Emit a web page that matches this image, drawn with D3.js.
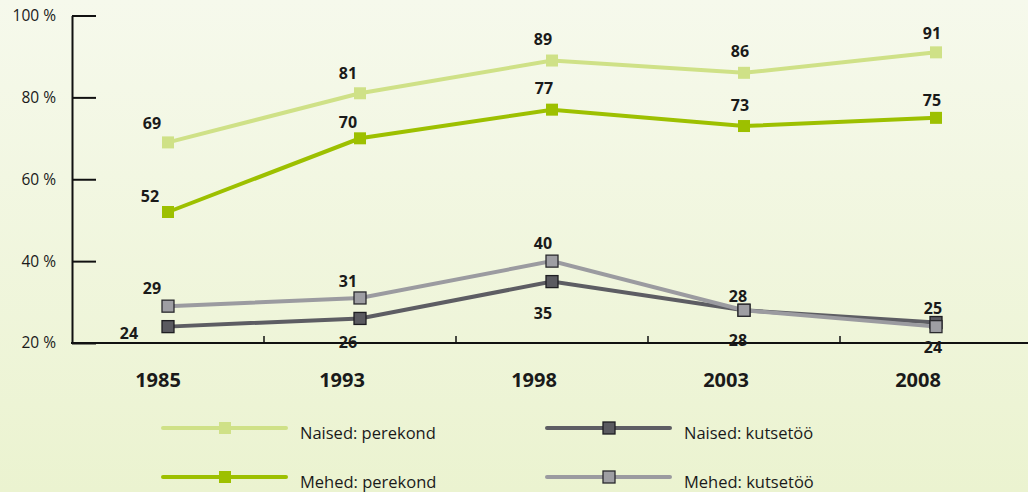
<!DOCTYPE html>
<html>
<head>
<meta charset="utf-8">
<script src="https://cdn.jsdelivr.net/npm/d3@7"></script>
<style>
    html, body { margin: 0; padding: 0; overflow: hidden; }
    body { width: 1028px; height: 492px; }
    text { font-family: "Open Sans", "Noto Sans", sans-serif; fill: #1a1a1a; }
</style>
</head>
<body>
<script>
// data
var years = ["1985", "1993", "1998", "2003", "2008"],
    naisedPerekond = [69, 81, 89, 86, 91],
    mehedPerekond = [52, 70, 77, 73, 75],
    naisedKutsetoo = [24, 26, 35, 28, 25],
    mehedKutsetoo = [29, 31, 40, 28, 24],
    yTicks = [20, 40, 60, 80, 100];

// label offsets (dx, dy) from the point, per series
var offsNaisedPerekond = [[-16, -19], [-12, -20], [-9, -21], [-4, -21], [-4, -19]],
    offsMehedPerekond = [[-18, -16], [-12, -16], [-8, -21], [-4, -21], [-4, -17]],
    offsNaisedKutsetoo = [[-39, 7], [-12, 24], [-9, 32], [-6, 30], [-3, -14]],
    offsMehedKutsetoo = [[-16, -18], [-12, -17], [-9, -18], [-6, -14], [-3, 21]];

window.onload = function() {
    makeGraph();
};

/*
 * Draw the line chart.
 */
function makeGraph()
{
    var width = 1028,
        height = 492,
        left = 72,
        bottom = 343;

    var svg = d3.select("body").append("svg")
                .attr("width", width)
                .attr("height", height);

    // background gradient
    var grad = svg.append("defs").append("linearGradient")
                .attr("id", "bg")
                .attr("x1", 0).attr("y1", 0)
                .attr("x2", 0).attr("y2", 1);
    grad.append("stop").attr("offset", "0%").attr("stop-color", "#f6f9ec");
    grad.append("stop").attr("offset", "100%").attr("stop-color", "#ebf3d0");

    svg.append("rect")
        .attr("width", width)
        .attr("height", height)
        .attr("fill", "url(#bg)");

    // scales
    var scaleX = d3.scaleBand()
                    .domain(years)
                    .range([left, 1032]);

    var scaleY = d3.scaleLinear()
                    .domain([20, 100])
                    .range([bottom, 15.5]);

    var px = function(d) { return scaleX(d) + scaleX.bandwidth() / 2; };

    // y-axis
    var yAxis = d3.axisLeft(scaleY)
                    .tickValues(yTicks)
                    .tickSize(-24)
                    .tickSizeOuter(0)
                    .tickPadding(16)
                    .tickFormat(function(d) { return d + " %"; });

    var gy = svg.append("g")
        .attr("transform", "translate(" + left + ",0)")
        .call(yAxis);
    gy.select(".domain").attr("stroke", "#111").attr("stroke-width", 2);
    gy.selectAll(".tick line").attr("stroke", "#111").attr("stroke-width", 2);
    gy.selectAll(".tick text")
        .attr("font-family", "'Open Sans', 'Noto Sans', sans-serif")
        .attr("font-size", "15.5px")
        .attr("fill", "#1a1a1a");

    // x-axis line and the little ticks between years
    svg.append("line")
        .attr("x1", left - 1)
        .attr("x2", width)
        .attr("y1", bottom)
        .attr("y2", bottom)
        .attr("stroke", "#111")
        .attr("stroke-width", 2);

    svg.selectAll(".xtick")
        .data(years.slice(1))
        .enter()
        .append("line")
            .attr("class", "xtick")
            .attr("x1", function(d) { return scaleX(d); })
            .attr("x2", function(d) { return scaleX(d); })
            .attr("y1", bottom - 7)
            .attr("y2", bottom)
            .attr("stroke", "#111")
            .attr("stroke-width", 1.5);

    // year labels
    svg.selectAll(".year")
        .data(years)
        .enter()
        .append("text")
            .attr("class", "year")
            .attr("x", function(d, i) { return px(d) - (i == 0 ? 10 : 18); })
            .attr("y", 380)
            .attr("dy", "0.35em")
            .style("text-anchor", "middle")
            .style("font-size", "20px")
            .style("font-weight", "bold")
            .text(function(d) { return d; });

    // series, drawn back to front
    var series = [
        {name: "Naised: perekond", values: naisedPerekond, offs: offsNaisedPerekond,
         line: "#cfe187", fill: "#cfe187", stroke: "none"},
        {name: "Mehed: perekond", values: mehedPerekond, offs: offsMehedPerekond,
         line: "#9dc000", fill: "#9dc000", stroke: "none"},
        {name: "Naised: kutsetöö", values: naisedKutsetoo, offs: offsNaisedKutsetoo,
         line: "#5d5d63", fill: "#5a5a60", stroke: "#1e1e22"},
        {name: "Mehed: kutsetöö", values: mehedKutsetoo, offs: offsMehedKutsetoo,
         line: "#9b9ba0", fill: "#9e9ea3", stroke: "#2a2a2e"}
    ];

    var line = d3.line()
                .x(function(d, i) { return px(years[i]); })
                .y(function(d) { return scaleY(d); });

    var m = 12;

    series.forEach(function(s) {
        svg.append("path")
            .attr("d", line(s.values))
            .attr("fill", "none")
            .attr("stroke", s.line)
            .attr("stroke-width", 4);
    });

    series.forEach(function(s) {
        svg.selectAll(null)
            .data(s.values)
            .enter()
            .append("rect")
                .attr("x", function(d, i) { return px(years[i]) - m / 2; })
                .attr("y", function(d) { return scaleY(d) - m / 2; })
                .attr("width", m)
                .attr("height", m)
                .attr("fill", s.fill)
                .attr("stroke", s.stroke)
                .attr("stroke-width", 1.3);
    });

    // value labels
    series.forEach(function(s) {
        svg.selectAll(null)
            .data(s.values)
            .enter()
            .append("text")
                .attr("x", function(d, i) { return px(years[i]) + s.offs[i][0]; })
                .attr("y", function(d, i) { return scaleY(d) + s.offs[i][1]; })
                .attr("dy", "0.35em")
                .style("text-anchor", "middle")
                .style("font-size", "16px")
                .style("font-weight", "bold")
                .text(function(d) { return d; });
    });

    // legend, two columns
    var legendPos = [[163, 428], [163, 477], [547, 428], [547, 477]];

    var legend = svg.selectAll(".legend")
                    .data(series)
                .enter().append("g")
                    .attr("class", "legend")
                    .attr("transform", function(d, i) {
                        return "translate(" + legendPos[i][0] + "," + legendPos[i][1] + ")";
                    });

    legend.append("line")
        .attr("x1", 0)
        .attr("x2", 123)
        .attr("stroke", function(d) { return d.line; })
        .attr("stroke-width", 4)
        .attr("stroke-linecap", "round");

    legend.append("rect")
        .attr("x", 62 - m / 2)
        .attr("y", -m / 2)
        .attr("width", m)
        .attr("height", m)
        .attr("fill", function(d) { return d.fill; })
        .attr("stroke", function(d) { return d.stroke; })
        .attr("stroke-width", 1.3);

    legend.append("text")
        .attr("x", 137)
        .attr("y", 5)
        .attr("dy", "0.35em")
        .style("font-size", "16.5px")
        .text(function(d) { return d.name; });
}
</script>
</body>
</html>
